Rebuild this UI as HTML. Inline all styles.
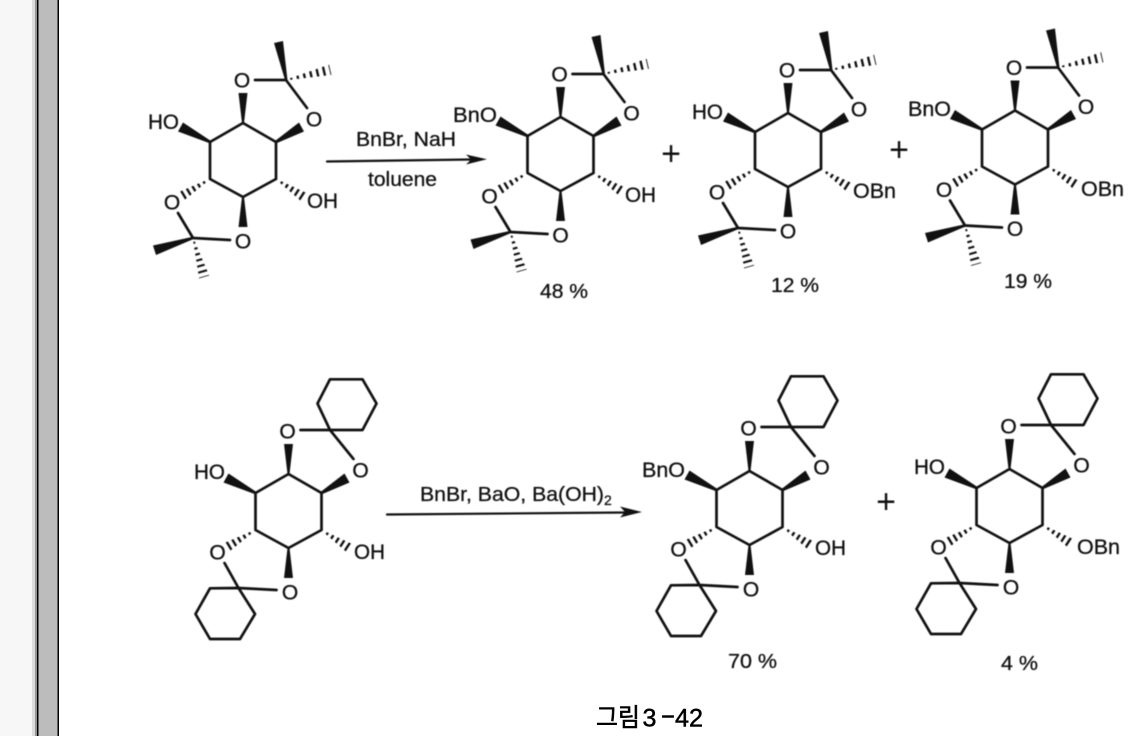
<!DOCTYPE html>
<html lang="ko">
<head>
<meta charset="utf-8">
<title>그림3-42</title>
<style>
html,body{margin:0;padding:0;background:#fff;}
svg{display:block;}
text{font-family:"Liberation Sans","Noto Sans CJK KR",sans-serif;font-size:21px;fill:#111;stroke:#111;stroke-width:.3px;}
.b{stroke:#111;stroke-width:2.700;fill:none;stroke-linejoin:round;stroke-linecap:round;}
.w{fill:#111;stroke:none;}
.art{filter:blur(.4px);}
.c{text-anchor:middle;}
.s{font-size:20px;}
.p{font-size:34px;stroke-width:0;}
.k{font-size:25px;fill:#000;stroke:#000;stroke-width:.5px;}
</style>
</head>
<body>
<svg xmlns="http://www.w3.org/2000/svg" width="1136" height="736" viewBox="0 0 1136 736">
<defs>
<clipPath id="hc"><polygon points="2,-.6 32.500,-4.800 32.500,4.800 2,.6"/></clipPath>
<g id="h"><line x1="5.600" y1="0" x2="32.500" y2="0" stroke="#111" stroke-width="11" stroke-dasharray="2.400 3.600" clip-path="url(#hc)"/></g>
<g id="h2"><line x1="3" y1="0" x2="32.500" y2="0" stroke="#111" stroke-width="11" stroke-dasharray="1.700 3.100" clip-path="url(#hc)"/></g>
<g id="core">
<path class="b" d="M0,-37 L33,-18 L33,19 L0,37 L-33,19 L-33,-18 Z"/>
<polygon class="w" points="-1,-37 1,-37 4.500,-67 -4.500,-67"/>
<polygon class="w" points="32,-19 34,-17 61,-28.500 56,-37.500"/>
<polygon class="w" points="-32,-19 -34,-17 -65,-28.500 -60,-37.500"/>
<polygon class="w" points="-1,37 1,37 4.500,67 -4.500,67"/>
<use href="#h" transform="translate(33,19) rotate(33)"/>
<use href="#h" transform="translate(-33,19) rotate(149)"/>
</g>
<g id="ace">
<use href="#core"/>
<path class="b" d="M12,-80 L43,-80 L64,-52"/>
<polygon class="w" points="42,-80 44.500,-80 40,-119 31,-117"/>
<use href="#h2" transform="translate(43,-80) rotate(-13) scale(1.400,1.100)"/>
<path class="b" d="M-13,80 L-50,78 L-65,53"/>
<polygon class="w" points="-50,76.800 -50,79.200 -87,95 -90,85.500"/>
<use href="#h2" transform="translate(-50,78) rotate(74) scale(1.250,1.100)"/>
</g>
<g id="cyc">
<use href="#core"/>
<path class="b" d="M12,-81 L41.500,-81 L65,-52"/>
<path class="b" d="M41.500,-81 L29,-107.500 L41.500,-131.700 L74,-131.700 L88,-107.500 L74,-81 Z"/>
<path class="b" d="M-12,79 L-50,77 L-64,52"/>
<path class="b" d="M-50,77 L-78.500,77.300 L-93,103 L-78.500,128 L-48.500,128 L-33.500,103 Z"/>
</g>
<g id="acO">
<text class="c" x="-1" y="-72.500">O</text>
<text class="c" x="71" y="-33.500">O</text>
<text class="c" x="-71" y="49.500">O</text>
<text class="c" x="0" y="88.500">O</text>
</g>
<g id="cyO">
<text class="c" x="-1" y="-72.500">O</text>
<text class="c" x="72" y="-33.500">O</text>
<text class="c" x="-71" y="48.500">O</text>
<text class="c" x="1.500" y="88.500">O</text>
</g>
</defs>

<rect x="0" y="0" width="1136" height="736" fill="#fff"/>
<rect x="0" y="0" width="32" height="736" fill="#f7f7f7"/>
<rect x="32" y="0" width="3" height="736" fill="#dcdcdc"/>
<rect x="35" y="0" width="2" height="736" fill="#959595"/>
<rect x="37" y="0" width="1.500" height="736" fill="#000"/>
<rect x="38.500" y="0" width="19" height="736" fill="#bcbcbc"/>
<rect x="57.500" y="0" width="1.500" height="736" fill="#000"/>

<g class="art">
<g transform="translate(243,160)"><use href="#ace"/><use href="#acO"/></g>
<text x="148" y="129" textLength="31" lengthAdjust="spacingAndGlyphs">HO</text>
<text x="307" y="208" textLength="31" lengthAdjust="spacingAndGlyphs">OH</text>

<g transform="translate(560.500,154)"><use href="#ace"/><use href="#acO"/></g>
<text x="453" y="122" textLength="44" lengthAdjust="spacingAndGlyphs">BnO</text>
<text x="625" y="202" textLength="31" lengthAdjust="spacingAndGlyphs">OH</text>

<g transform="translate(788,150)"><use href="#ace"/><use href="#acO"/></g>
<text x="692" y="119" textLength="31" lengthAdjust="spacingAndGlyphs">HO</text>
<text x="853" y="198" textLength="43" lengthAdjust="spacingAndGlyphs">OBn</text>

<g transform="translate(1015,147.500)"><use href="#ace"/><use href="#acO"/></g>
<text x="908" y="116" textLength="43" lengthAdjust="spacingAndGlyphs">BnO</text>
<text x="1081" y="196" textLength="43" lengthAdjust="spacingAndGlyphs">OBn</text>

<line class="b" x1="327" y1="161.500" x2="470" y2="159.500" style="stroke-width:2.200"/>
<polygon class="w" points="487,159.300 466,154.500 471,159.500 466,164.500"/>
<text class="s" x="356" y="146" textLength="100" lengthAdjust="spacingAndGlyphs">BnBr, NaH</text>
<text class="s" x="368" y="186" textLength="69" lengthAdjust="spacingAndGlyphs">toluene</text>

<text class="c p" x="671" y="165">+</text>
<text class="c p" x="899" y="161">+</text>

<text class="s" x="540" y="298" textLength="48" lengthAdjust="spacingAndGlyphs">48 %</text>
<text class="s" x="771" y="292" textLength="48" lengthAdjust="spacingAndGlyphs">12 %</text>
<text class="s" x="1004" y="288" textLength="48" lengthAdjust="spacingAndGlyphs">19 %</text>

<g transform="translate(288.500,511)"><use href="#cyc"/><use href="#cyO"/></g>
<text x="194" y="479" textLength="31" lengthAdjust="spacingAndGlyphs">HO</text>
<text x="354" y="559" textLength="31" lengthAdjust="spacingAndGlyphs">OH</text>

<g transform="translate(749.500,508)"><use href="#cyc"/><use href="#cyO"/></g>
<text x="642" y="477" textLength="43" lengthAdjust="spacingAndGlyphs">BnO</text>
<text x="815" y="555" textLength="31" lengthAdjust="spacingAndGlyphs">OH</text>

<g transform="translate(1009.500,506)"><use href="#cyc"/><use href="#cyO"/></g>
<text x="914" y="474" textLength="31" lengthAdjust="spacingAndGlyphs">HO</text>
<text x="1077" y="554" textLength="43" lengthAdjust="spacingAndGlyphs">OBn</text>

<line class="b" x1="387" y1="514.500" x2="625" y2="512.500" style="stroke-width:2.200"/>
<polygon class="w" points="642,512 620,506.500 625,512 620,517.500"/>
<text class="s" x="420" y="501" textLength="184" lengthAdjust="spacingAndGlyphs">BnBr, BaO, Ba(OH)</text>
<text x="604" y="505" style="font-size:14px">2</text>

<text class="c p" x="886" y="513">+</text>

<text class="s" x="728" y="668" textLength="49" lengthAdjust="spacingAndGlyphs">70 %</text>
<text class="s" x="1001" y="670" textLength="37" lengthAdjust="spacingAndGlyphs">4 %</text>
</g>

<text class="k" x="596" y="726" textLength="44" lengthAdjust="spacingAndGlyphs">그림</text>
<text class="k" x="642.500" y="726.500">3</text>
<text class="k" x="660.500" y="723" textLength="15" lengthAdjust="spacingAndGlyphs">-</text>
<text class="k" x="675" y="726.500" textLength="28" lengthAdjust="spacingAndGlyphs">42</text>
</svg>
</body>
</html>
